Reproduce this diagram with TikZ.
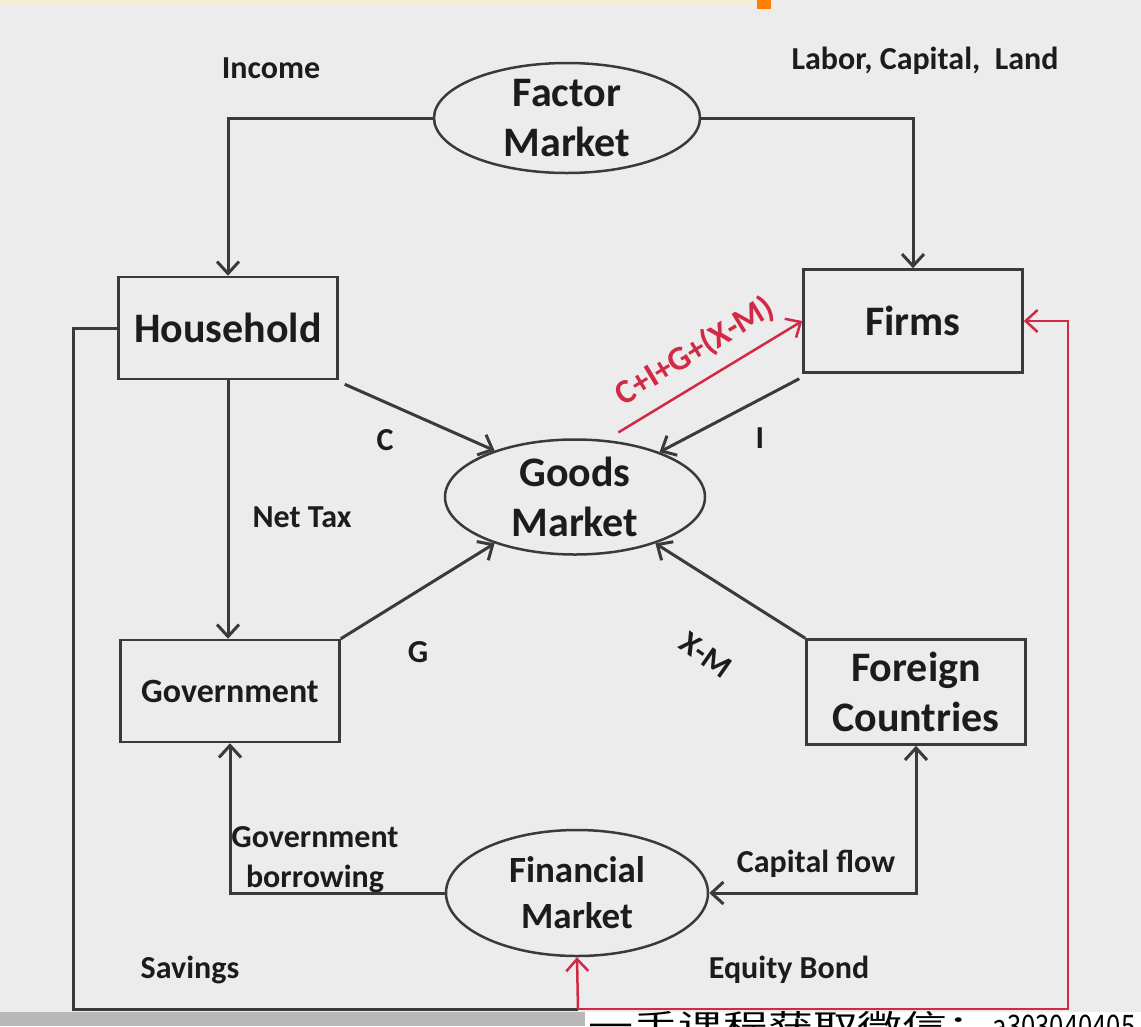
\documentclass[tikz,border=0pt]{standalone}
\usepackage{fontspec}
\setmainfont{Carlito}
\newfontfamily\cjk{Noto Sans CJK SC}
\usetikzlibrary{arrows.meta,shapes.geometric}
\definecolor{bgcol}{HTML}{ECECEC}
\definecolor{linecol}{HTML}{3A3A3A}
\definecolor{flowred}{HTML}{D22A44}
\definecolor{txtcol}{HTML}{1C1C1C}
\begin{document}
\begin{tikzpicture}[
    x=1pt, y=-1pt,
    every node/.style={text=txtcol, font=\bfseries},
    box/.style={rectangle, draw=linecol, line width=2.5pt, minimum width=219pt, minimum height=102pt, inner sep=0pt, align=center, font=\bfseries\fontsize{42}{50}\selectfont},
    oval/.style={ellipse, draw=linecol, line width=2.5pt, inner sep=-10pt, align=center, font=\bfseries\fontsize{42}{50}\selectfont},
    lbl/.style={font=\bfseries\fontsize{32}{40}\selectfont, align=center},
    flow/.style={draw=linecol, line width=3pt, -{Straight Barb[length=12pt,width=22pt]}},
    redflow/.style={draw=flowred, line width=2.5pt, -{Straight Barb[length=12pt,width=22pt]}}
]
\clip (0,0) rectangle (1141,1026);
\fill[bgcol] (0,0) rectangle (1141,1026);
\fill[yellow!15!bgcol] (0,0) rectangle (757,4);
\fill[orange] (757,0) rectangle (771,9);

% markets
\node[oval, minimum width=266pt, minimum height=110pt] (factor) at (567,118) {Factor\\Market};
\node[oval, minimum width=260pt, minimum height=115pt] (goods) at (575,497) {Goods\\Market};
\node[oval, minimum width=262pt, minimum height=126pt, font=\bfseries\fontsize{37}{46}\selectfont] (fin) at (577,893) {Financial\\Market};

% sectors
\node[box] (house) at (228,328) {Household};
\node[box, minimum height=103pt] (firms) at (913,321) {Firms};
\node[box, font=\bfseries\fontsize{34}{40}\selectfont] (gov) at (230,691) {Government};
\node[box, minimum height=105pt] (foreign) at (916,692) {Foreign\\Countries};

% labels
\node[lbl] (income) at (271,68) {Income};
\node[lbl] (factors) at (925,61) {Labor, Capital,~~Land};
\node[lbl] (cons) at (385,440) {C};
\node[lbl] (inv) at (760,438) {I};
\node[lbl] (tax) at (302,517) {Net Tax};
\node[lbl] (spend) at (418,652) {G};
\node[lbl, rotate=-35] (netx) at (706,655) {X-M};
\node[lbl] (borrow) at (315,860) {Government\\borrowing};
\node[lbl] (capflow) at (816,864) {Capital flow};
\node[lbl] (savings) at (190,970) {Savings};
\node[lbl] (equity) at (789,970) {Equity Bond};

\coordinate (sav) at (73,1009);
\coordinate (eqb) at (578,1009);
\coordinate (back) at (1068,1009);

% flows
\draw[flow] (factor.west) -| (house.north);
\draw[flow] (factor.east) -| (firms.north);
\draw[flow] (house.south) -- (house.south |- gov.north);
\draw[flow] ([shift={(6,4)}]house.south east) -- (goods.150);
\draw[flow] ([shift={(-3,5)}]firms.south west) -- (goods.28);
\draw[flow] (gov.north east) -- (goods.210);
\draw[flow] (foreign.north west) -- (goods.-30);
\draw[flow] (fin.west) -| (gov.south);
\draw[flow, {Straight Barb[length=12pt,width=22pt]}-{Straight Barb[length=12pt,width=22pt]}] (fin.east) -| (foreign.south);
\draw[draw=linecol, line width=3pt] (house.west) -| (sav) -- (eqb);
\draw[redflow] (eqb) -- (fin.south);
\draw[redflow] (eqb) -- (back) |- (firms.east);
\draw[redflow] ([shift={(8,-8)}]goods.58) -- (firms.west)
    node[midway, above=10pt, sloped, text=flowred, font=\bfseries\fontsize{34}{38}\selectfont] (total) {C+I+G+(X-M)};

% strip at the bottom
\fill[gray!55] (0,1012) rectangle (585,1026);
\fill[white] (585,1012) rectangle (1141,1026);
\node[anchor=base west, inner sep=0pt, xscale=1.45, text=black, font=\cjk\fontsize{31}{36}\selectfont] (mark) at (588,1037) {一手课程获取微信：\scalebox{0.57}[1]{a303040405}};
\end{tikzpicture}
\end{document}
